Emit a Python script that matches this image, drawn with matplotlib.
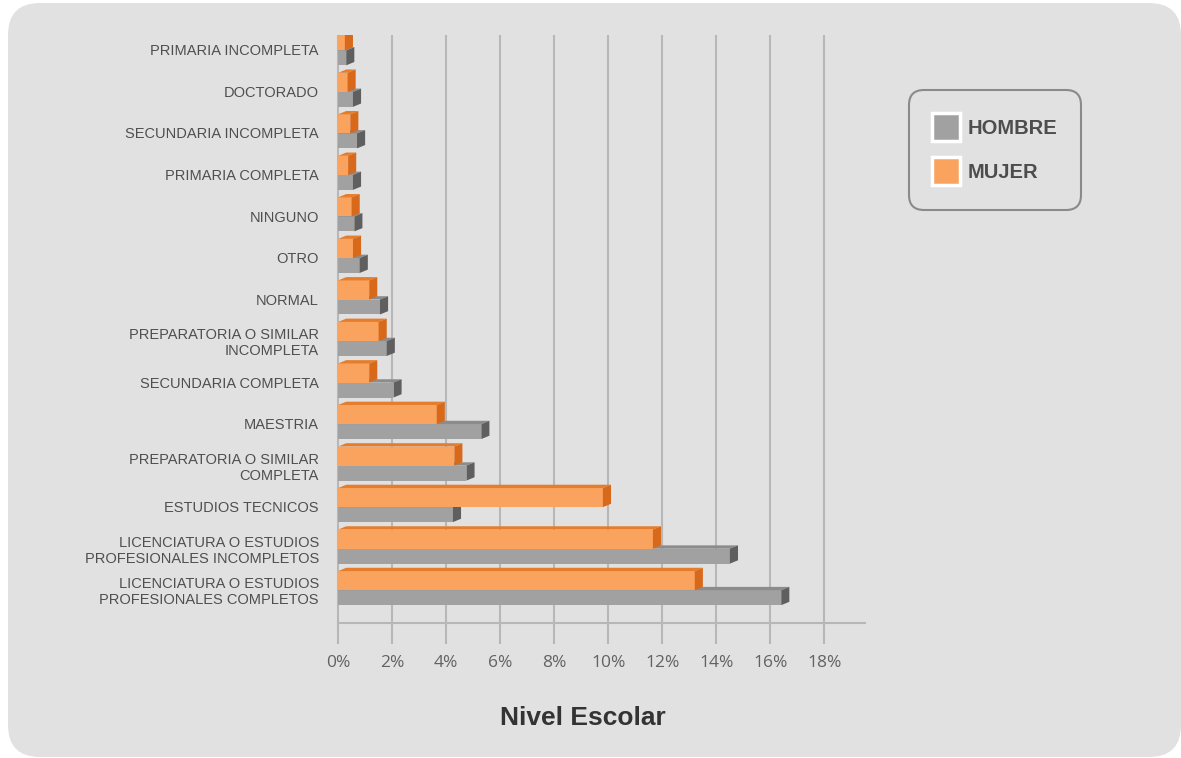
import matplotlib.pyplot as plt
from matplotlib.patches import FancyBboxPatch, Polygon, Rectangle

# nivel escolar, de arriba hacia abajo
categorias = [
    'PRIMARIA INCOMPLETA',
    'DOCTORADO',
    'SECUNDARIA INCOMPLETA',
    'PRIMARIA COMPLETA',
    'NINGUNO',
    'OTRO',
    'NORMAL',
    'PREPARATORIA O SIMILAR\nINCOMPLETA',
    'SECUNDARIA COMPLETA',
    'MAESTRIA',
    'PREPARATORIA O SIMILAR\nCOMPLETA',
    'ESTUDIOS TECNICOS',
    'LICENCIATURA O ESTUDIOS\nPROFESIONALES INCOMPLETOS',
    'LICENCIATURA O ESTUDIOS\nPROFESIONALES COMPLETOS',
]
hombre = [0.3, 0.55, 0.7, 0.55, 0.6, 0.8, 1.55, 1.8, 2.05, 5.3, 4.75, 4.25, 14.5, 16.4]
mujer = [0.25, 0.35, 0.45, 0.37, 0.5, 0.55, 1.15, 1.5, 1.15, 3.65, 4.3, 9.8, 11.65, 13.2]
ticks = list(range(0, 20, 2))

plt.rcParams['font.family'] = ['Liberation Sans', 'DejaVu Sans']

W, H = 1181, 758
fig = plt.figure(figsize=(W / 100, H / 100), dpi=100, facecolor='white')

# fondo gris redondeado
fig.patches.append(FancyBboxPatch((0.08, 0.01), 11.73, 7.54,
                                  boxstyle='round,pad=0,rounding_size=0.32',
                                  transform=fig.dpi_scale_trans,
                                  facecolor='#e1e1e1', edgecolor='none', zorder=-5))

ax = fig.add_axes([330 / W, (H - 623) / H, (865 - 330) / W, (623 - 35) / H])
ax.set_facecolor('none')
ax.set_xlim(-0.3, 19.5)
ax.set_ylim(13.8, -0.36)

dx, dy = 0.3, 0.08  # profundidad de las barras


def barra3d(y, alto, v, frente, tapa, lado, z):
    y0, y1 = y - alto / 2, y + alto / 2
    ax.barh(y, v, height=alto, left=0, color=frente, zorder=z)
    ax.add_patch(Polygon([(0, y0), (v, y0), (v + dx, y0 - dy), (dx, y0 - dy)],
                         closed=True, facecolor=tapa, edgecolor='none', zorder=z))
    ax.add_patch(Polygon([(v, y0), (v, y1), (v + dx, y1 - dy), (v + dx, y0 - dy)],
                         closed=True, facecolor=lado, edgecolor='none', zorder=z))


for i, (h, m) in enumerate(zip(hombre, mujer)):
    barra3d(i + 0.19, 0.36, h, '#a1a1a1', '#8c8c8c', '#5f5f5f', 2)
    barra3d(i - 0.22, 0.46, m, '#f9a35e', '#e57d2c', '#d8691b', 3)

ax.set_xticks(ticks)
ax.set_xticklabels([f'{t}%' for t in ticks])
ax.grid(axis='x', color='#b7b7b7', lw=1.5)
ax.set_axisbelow(True)
ax.tick_params(axis='x', length=15, width=1.5, color='#b7b7b7', pad=8,
               labelsize=12.5, labelcolor='#626262', labelfontfamily='Open Sans')

ax.set_yticks(range(len(categorias)))
ax.set_yticklabels(categorias)
ax.tick_params(axis='y', length=0, pad=8, labelsize=10.5, labelcolor='#4f4f4f')

for s in ['left', 'top', 'right']:
    ax.spines[s].set_visible(False)
ax.spines['bottom'].set_color('#b7b7b7')
ax.spines['bottom'].set_linewidth(1.5)
ax.spines['bottom'].set_bounds(0, 19.5)

fig.text(583 / W, 1 - 718 / H, 'Nivel Escolar', ha='center', va='center',
         fontsize=19, fontweight='bold', color='#333333')

# leyenda
fig.patches.append(FancyBboxPatch((9.09, (H - 210) / 100), 1.72, 1.2,
                                  boxstyle='round,pad=0,rounding_size=0.15',
                                  transform=fig.dpi_scale_trans,
                                  facecolor='none', edgecolor='#8a8a8a', lw=1.5))
for nombre, color, yc in [('HOMBRE', '#a1a1a1', 127), ('MUJER', '#f9a35e', 171)]:
    fig.patches.append(Rectangle((9.32, (H - yc - 14) / 100), 0.28, 0.28,
                                 transform=fig.dpi_scale_trans,
                                 facecolor=color, edgecolor='white', lw=2.5))
    fig.text(968 / W, 1 - (yc + 1) / H, nombre, ha='left', va='center',
             fontsize=14.5, fontweight='bold', color='#4d4d4d')

fig.savefig('out.png', dpi=100, facecolor='white')
